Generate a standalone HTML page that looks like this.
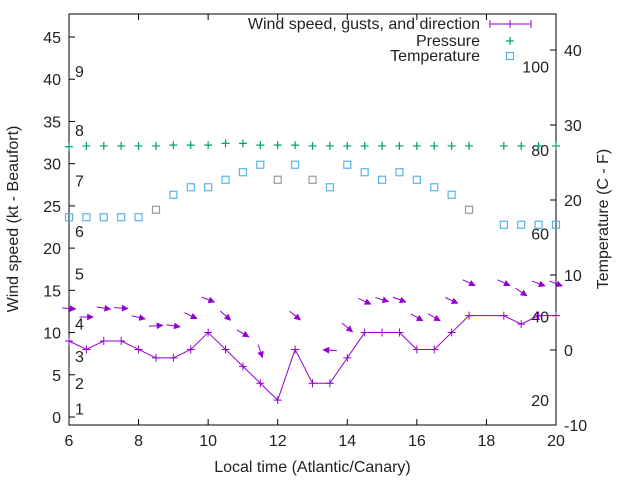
<!DOCTYPE html>
<html><head><meta charset="utf-8"><style>
body{margin:0;background:#fff}
svg text{font-family:"Liberation Sans",sans-serif;font-size:16px;fill:#222}
</style></head><body>
<svg id="c" width="640" height="480" xmlns="http://www.w3.org/2000/svg"></svg>
<script>
const times=[6,6.5,7,7.5,8,8.5,9,9.5,10,10.5,11,11.5,12,12.5,13,13.5,14,14.5,15,15.5,16,16.5,17,17.5,18.5,19,19.5,20];
const windSpeed=[9,8,9,9,8,7,7,8,10,8,6,4,2,8,4,4,7,10,10,10,8,8,10,12,12,11,12,12];
const gustLevel=[12.85,11.84,12.9,12.9,11.8,10.8,10.8,12.0,13.9,12.0,9.9,7.8,null,12.0,null,7.9,10.6,13.7,13.9,13.9,11.8,11.8,13.8,15.9,15.9,14.8,15.8,15.8];
const windDirAngle=[4,0,9,4,13,-4,9,25,21,42,30,72,null,39,null,184,40,25,17,21,30,30,25,25,25,34,21,21];
const pressure=[32,32.1,32.1,32.1,32.1,32.1,32.2,32.2,32.2,32.4,32.4,32.2,32.2,32.2,32.1,32.1,32.1,32.1,32.1,32.1,32.1,32.1,32.1,32.1,32.1,32.1,32.1,32.1];
const temperature=[17.7,17.7,17.7,17.7,17.7,18.7,20.7,21.7,21.7,22.7,23.7,24.7,22.7,24.7,22.7,21.7,24.7,23.7,22.7,23.7,22.7,21.7,20.7,18.7,16.7,16.7,16.7,16.7];
const tempGrey=[0,0,0,0,0,1,0,0,0,0,0,0,1,0,1,0,0,0,0,0,0,0,0,1,0,0,0,0];
const xTicks=[6,8,10,12,14,16,18,20];
const yTicks=[0,5,10,15,20,25,30,35,40,45];
const y2Ticks=[-10,0,10,20,30,40];
const beaufort=[["1",1],["2",4],["3",7.2],["4",11.1],["5",17],["6",22],["7",28],["8",34],["9",41]];
const fahrenheit=[20,40,60,80,100];

const L=69,R=556,T=14,B=425;
const X=t=>L+(t-6)/14*(R-L);
const Y=v=>417-v*(380/45);
const Y2=c=>350-c*7.5;
const svg=document.getElementById('c');
const NS='http://www.w3.org/2000/svg';
function mk(tag,attrs,parent){const e=document.createElementNS(NS,tag);for(const k in attrs)e.setAttribute(k,attrs[k]);(parent||svg).appendChild(e);return e;}

let fr=mk('rect',{x:L,y:T,width:R-L,height:B-T,fill:'none',stroke:'#000','stroke-width':1});



xTicks.forEach(t=>{
  mk('line',{x1:X(t),y1:B,x2:X(t),y2:B-6,stroke:'#000'});
  mk('line',{x1:X(t),y1:T,x2:X(t),y2:T+6,stroke:'#000'});
  const tx=mk('text',{x:X(t),y:B+21,'text-anchor':'middle'});tx.textContent=t;
  
  
});
yTicks.forEach(v=>{
  mk('line',{x1:L,y1:Y(v),x2:L+6,y2:Y(v),stroke:'#000'});
  const tx=mk('text',{x:L-8,y:Y(v)+6,'text-anchor':'end'});tx.textContent=v;
  
  
});
y2Ticks.forEach(v=>{
  mk('line',{x1:R,y1:Y2(v),x2:R-6,y2:Y2(v),stroke:'#000'});
  const tx=mk('text',{x:R+8,y:Y2(v)+6,'text-anchor':'start'});tx.textContent=v;
  
  
});
beaufort.forEach(b=>{
  const tx=mk('text',{x:75,y:Y(b[1])+6});tx.textContent=b[0];
  
  
});
fahrenheit.forEach(f=>{
  const c=(f-32)*5/9;
  const tx=mk('text',{x:549,y:Y2(c)+6,'text-anchor':'end'});tx.textContent=f;
  
  
});

let t1=mk('text',{x:(L+R)/2,y:472,'text-anchor':'middle'});t1.textContent='Local time (Atlantic/Canary)';


let t2=mk('text',{x:0,y:0,'text-anchor':'middle',transform:'translate(18,219) rotate(-90)'});t2.textContent='Wind speed (kt - Beaufort)';


let t3=mk('text',{x:0,y:0,'text-anchor':'middle',transform:'translate(608,219) rotate(-90)'});t3.textContent='Temperature (C - F)';



const purple='#9400d3',green='#009e73',blue='#56b4e9';
times.forEach((t,i)=>{
  const g=mk('path',{d:`M${X(t)-4},${Y(pressure[i])}h8M${X(t)},${Y(pressure[i])-4}v8`,stroke:green,'stroke-width':1.2});
  
  
});
times.forEach((t,i)=>{
  const s=mk('rect',{x:X(t)-3.5,y:Y2(temperature[i])-3.5,width:7,height:7,fill:'none',stroke:tempGrey[i]?'#999':blue,'stroke-width':1.2});
  
  
});
const ln=mk('polyline',{points:times.map((t,i)=>X(t)+','+Y(windSpeed[i])).join(' '),fill:'none',stroke:purple,'stroke-width':1});


times.forEach((t,i)=>{
  const p=mk('path',{d:`M${X(t)-4},${Y(windSpeed[i])}h8M${X(t)},${Y(windSpeed[i])-4}v8`,stroke:purple,'stroke-width':1});
  
  
});
times.forEach((t,i)=>{
  if(gustLevel[i]==null)return;
  const a=windDirAngle[i]*Math.PI/180,cx=X(t),cy=Y(gustLevel[i]),h=7;
  const x1=cx-h*Math.cos(a),y1=cy-h*Math.sin(a),x2=cx+h*Math.cos(a),y2=cy+h*Math.sin(a);
  const g=mk('g',{});
  
  
  mk('line',{x1,y1,x2,y2,stroke:purple,'stroke-width':1},g);
  const hl=6,hw=3;
  const bx=x2-hl*Math.cos(a),by=y2-hl*Math.sin(a);
  mk('polygon',{points:`${x2},${y2} ${bx-hw*Math.sin(a)},${by+hw*Math.cos(a)} ${bx+hw*Math.sin(a)},${by-hw*Math.cos(a)}`,fill:purple,stroke:purple,'stroke-width':0.5},g);
});
const lg=mk('g',{});


[['Wind speed, gusts, and direction',24],['Pressure',41],['Temperature',56]].forEach(e=>{
  const tx=mk('text',{x:480,y:e[1]+5,'text-anchor':'end'},lg);tx.textContent=e[0];
  
  
});
mk('path',{d:'M490,24h41M490,20v8M531,20v8M510,20v8',stroke:purple,'stroke-width':1},lg);
mk('path',{d:'M506,41h8M510,37v8',stroke:green,'stroke-width':1.2},lg);
mk('rect',{x:506.5,y:52.5,width:7,height:7,fill:'none',stroke:blue,'stroke-width':1.2},lg);
</script>
</body></html>
